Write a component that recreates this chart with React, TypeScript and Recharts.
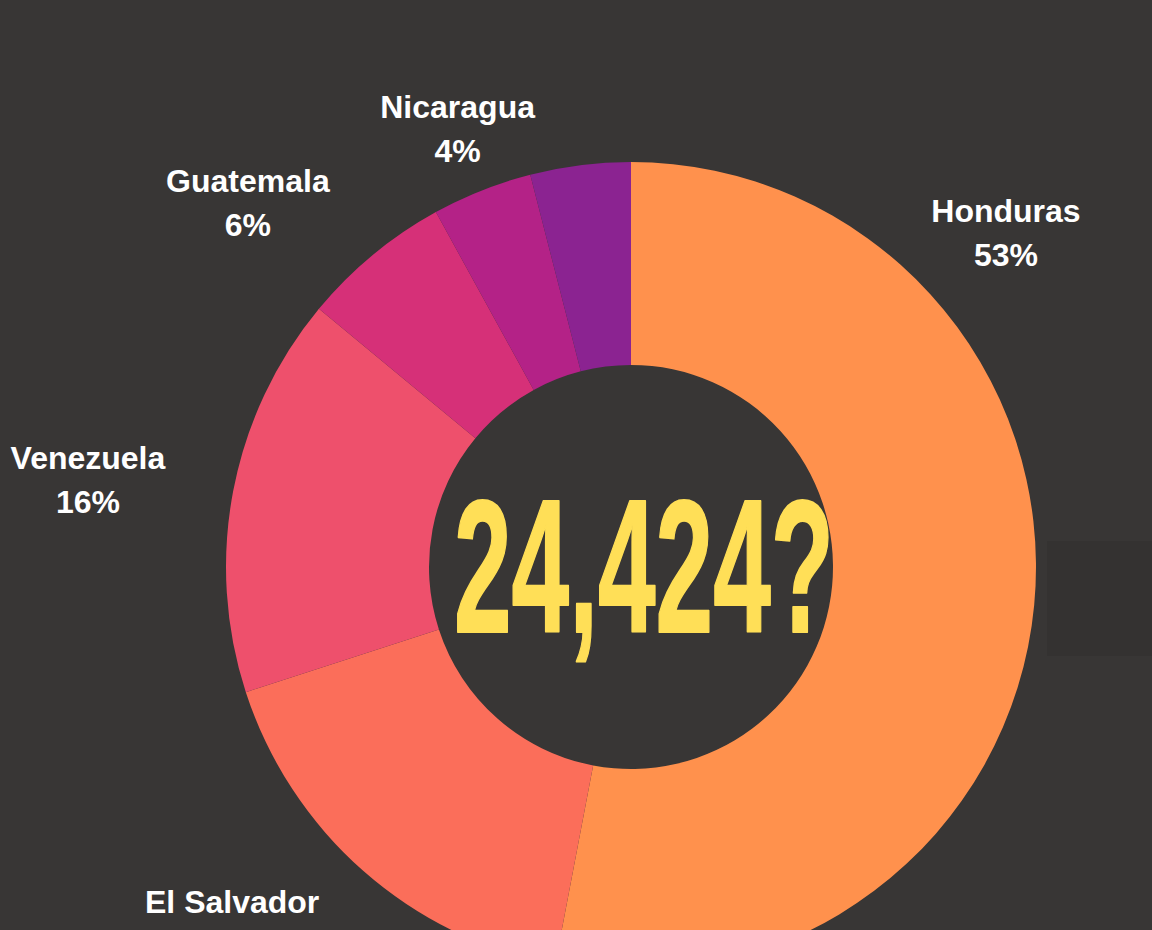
import React from "react";
import { PieChart, Pie, Cell, Label } from "recharts";

const countries = ["Honduras", "El Salvador", "Venezuela", "Guatemala", "Nicaragua", ""];
const shares = [53, 17, 16, 6, 4, 4];
const colors = ["#FF914D", "#FB6E5A", "#EE506C", "#D63078", "#B42287", "#8B2391"];
const centerText = "24,424?";

const data = countries.map((name, i) => ({ name, value: shares[i] }));

const BG = "#383635";
const RADIAN = Math.PI / 180;

// label placement: angle shift (deg) from slice middle and radius factor of outer radius
const labelLayout: Record<string, { dA: number; rf: number }> = {
  Honduras: { dA: 47.1, rf: 1.24 },
  "El Salvador": { dA: -6.8, rf: 1.321 },
  Venezuela: { dA: 1.7, rf: 1.358 },
  Guatemala: { dA: 6.9, rf: 1.304 },
  Nicaragua: { dA: 0, rf: 1.163 },
};

const renderLabel = (props: any) => {
  const { cx, cy, midAngle, outerRadius, name, percent } = props;
  if (!name) return null;
  const lay = labelLayout[name] || { dA: 0, rf: 1.25 };
  const a = (midAngle + lay.dA) * RADIAN;
  const r = outerRadius * lay.rf;
  const x = cx + r * Math.cos(-a);
  const y = cy + r * Math.sin(-a);
  const style = {
    fontFamily: "'Liberation Sans', Arial, sans-serif",
    fontWeight: 700,
    fontSize: 32,
  } as React.CSSProperties;
  return (
    <g>
      <text x={x} y={y - 22} fill="#FFFFFF" textAnchor="middle" dominantBaseline="central" style={style}>
        {name}
      </text>
      <text x={x} y={y + 22} fill="#FFFFFF" textAnchor="middle" dominantBaseline="central" style={style}>
        {`${Math.round(percent * 100)}%`}
      </text>
    </g>
  );
};

const CenterLabel = (props: any) => {
  const vb = props.viewBox || {};
  const cx = vb.cx ?? 626;
  const cy = vb.cy ?? 562;
  return (
    <text
      x={cx + 18}
      y={cy + 70}
      fill="#FFDF57"
      stroke="#FFDF57"
      strokeWidth={2}
      strokeLinejoin="round"
      textAnchor="middle"
      textLength={380}
      lengthAdjust="spacingAndGlyphs"
      style={{ fontFamily: "'Liberation Sans', Arial, sans-serif", fontWeight: 700, fontSize: 190 }}
    >
      {centerText}
    </text>
  );
};

export default function App() {
  return (
    <div
      style={{
        position: "absolute",
        left: 0,
        top: 0,
        width: 1152,
        height: 930,
        background: BG,
        overflow: "hidden",
      }}
    >
      <div
        style={{
          position: "absolute",
          left: 1047,
          top: 541,
          width: 105,
          height: 115,
          background: "#343231",
        }}
      />
      <div style={{ position: "absolute", left: 0, top: 0 }}>
        <PieChart width={1152} height={930}>
          <Pie
            data={data}
            dataKey="value"
            nameKey="name"
            cx={626}
            cy={562}
            innerRadius={202}
            outerRadius={405}
            startAngle={90}
            endAngle={-270}
            stroke="none"
            label={renderLabel}
            labelLine={false}
            isAnimationActive={false}
          >
            {data.map((d, i) => (
              <Cell key={i} fill={colors[i]} />
            ))}
            <Label position="center" content={<CenterLabel />} />
          </Pie>
        </PieChart>
      </div>
    </div>
  );
}
